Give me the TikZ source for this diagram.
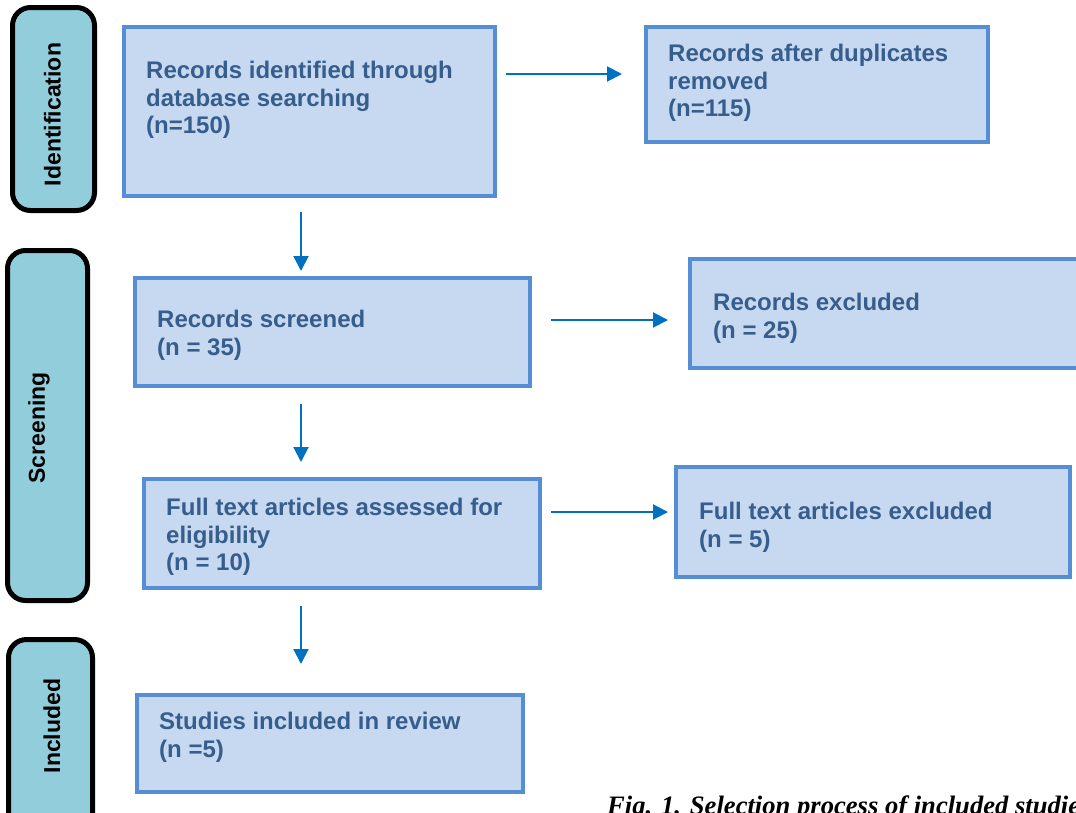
\documentclass[tikz,border=0pt]{standalone}
\usepackage{fontspec}
\setmainfont{Liberation Sans}
\newfontfamily\capfont{Liberation Serif}
\usepackage{xcolor}
\usetikzlibrary{positioning, arrows.meta, calc}

\definecolor{boxfill}{HTML}{C6D9F1}
\definecolor{boxline}{HTML}{558ED5}
\definecolor{boxtext}{HTML}{365D8C}
\definecolor{arrowblue}{HTML}{0070C0}
\definecolor{phasefill}{HTML}{92CDDC}

\begin{document}
\begin{tikzpicture}[
    x=1pt, y=-1pt,
    box/.style={draw=boxline, fill=boxfill, line width=4pt, anchor=north west, inner sep=0pt},
    boxtxt/.style={anchor=north west, inner sep=0pt, align=left, text=boxtext, font=\fontsize{24}{27.5}\selectfont\bfseries},
    phase/.style={draw=black, fill=phasefill, line width=5pt, rounded corners=18pt, anchor=north west, inner sep=0pt},
    phasetxt/.style={rotate=90, inner sep=0pt, font=\fontsize{23}{27}\selectfont\bfseries},
    arrow/.style={-{Triangle[length=15pt, width=15pt]}, draw=arrowblue, line width=2pt},
    caption/.style={anchor=base west, inner sep=0pt, font=\capfont\fontsize{26.6}{30}\selectfont\bfseries\itshape},
]
\useasboundingbox (0,0) rectangle (1076,812);
\clip (0,0) rectangle (1076,812);

% Phase bars
\node[phase, minimum width=82pt, minimum height=203pt] (ident) at (10,5) {};
\node[phase, minimum width=80pt, minimum height=350pt] (screen) at (5,248) {};
\node[phase, minimum width=84pt, minimum height=218pt] (incph) at (6,637) {};
\node[phasetxt] (identtxt) at (52.5,114.5) {Identification};
\node[phasetxt] (screentxt) at (39,428) {Screening};
\node[phasetxt] (incphtxt) at (52,726) {Included};

% Boxes
\node[box, minimum width=371pt, minimum height=169pt] (recid) at (122,25) {};
\node[box, minimum width=342pt, minimum height=115pt] (dupl) at (644,25) {};
\node[box, minimum width=395pt, minimum height=108pt] (scr) at (133,276) {};
\node[box, minimum width=420pt, minimum height=109pt] (excl) at (688,257) {};
\node[box, minimum width=396pt, minimum height=109pt] (full) at (142,477) {};
\node[box, minimum width=394pt, minimum height=110pt] (ftexcl) at (674,465) {};
\node[box, minimum width=386pt, minimum height=97pt] (incl) at (135,693) {};

% Box texts
\node[boxtxt] (recidtxt) at ($(recid.north west)+(24,36)$) {Records identified through\\database searching\\(n=150)};
\node[boxtxt] (dupltxt) at ($(dupl.north west)+(24,19)$) {Records after duplicates\\removed\\(n=115)};
\node[boxtxt] (scrtxt) at ($(scr.north west)+(24,34)$) {Records screened\\(n = 35)};
\node[boxtxt] (excltxt) at ($(excl.north west)+(25,36)$) {Records excluded\\(n = 25)};
\node[boxtxt] (fulltxt) at ($(full.north west)+(24,21)$) {Full text articles assessed for\\eligibility\\(n = 10)};
\node[boxtxt] (ftexcltxt) at ($(ftexcl.north west)+(25,37)$) {Full text articles excluded\\(n = 5)};
\node[boxtxt] (incltxt) at ($(incl.north west)+(24,19)$) {Studies included in review\\(n =5)};

% Arrows to the right
\coordinate (h1) at ($(recid.north east)+(0,49)$);
\coordinate (h2) at ($(scr.north east)+(0,44)$);
\coordinate (h3) at ($(full.north east)+(0,35)$);
\draw[arrow, shorten <=9pt, shorten >=22pt] (h1) -- (h1 -| dupl.west);
\draw[arrow, shorten <=19pt, shorten >=20pt] (h2) -- (h2 -| excl.west);
\draw[arrow, shorten <=9pt, shorten >=6pt] (h3) -- (h3 -| ftexcl.west);

% Arrows down
\coordinate (v1) at ($(recid.south west)+(179,0)$);
\coordinate (v2) at ($(scr.south west)+(168,0)$);
\coordinate (v3) at ($(full.south west)+(159,0)$);
\draw[arrow, shorten <=14pt, shorten >=5pt] (v1) -- (v1 |- scr.north);
\draw[arrow, shorten <=16pt, shorten >=15pt] (v2) -- (v2 |- full.north);
\draw[arrow, shorten <=16pt, shorten >=29pt] (v3) -- (v3 |- incl.north);

% Caption
\node[caption] (cap) at (607,814) {Fig. 1. Selection process of included studies};

\end{tikzpicture}
\end{document}
